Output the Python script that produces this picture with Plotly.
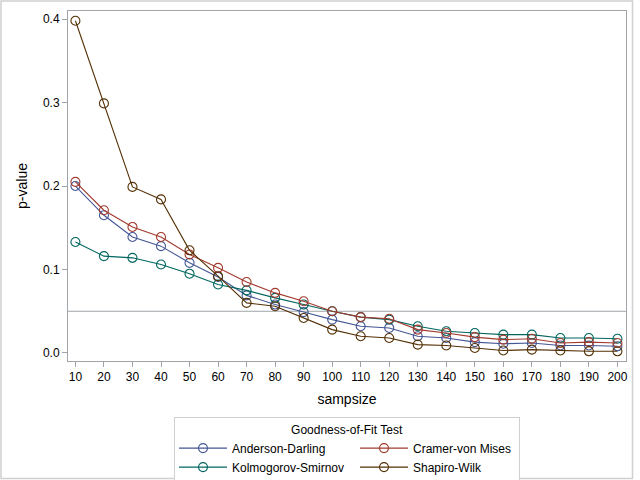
import plotly.graph_objects as go

sampsize = [10, 20, 30, 40, 50, 60, 70, 80, 90, 100,
            110, 120, 130, 140, 150, 160, 170, 180, 190, 200]

anderson_darling = [0.200, 0.165, 0.139, 0.128, 0.108, 0.091, 0.069, 0.058, 0.049, 0.040,
                    0.032, 0.030, 0.020, 0.018, 0.013, 0.011, 0.012, 0.009, 0.009, 0.008]
cramer_von_mises = [0.205, 0.171, 0.151, 0.139, 0.118, 0.102, 0.085, 0.072, 0.062, 0.050,
                    0.043, 0.041, 0.028, 0.024, 0.019, 0.016, 0.017, 0.012, 0.013, 0.012]
kolmogorov_smirnov = [0.133, 0.116, 0.114, 0.106, 0.095, 0.082, 0.075, 0.066, 0.058, 0.050,
                      0.043, 0.040, 0.032, 0.026, 0.024, 0.022, 0.022, 0.018, 0.018, 0.017]
shapiro_wilk = [0.398, 0.299, 0.199, 0.184, 0.123, 0.092, 0.060, 0.056, 0.042, 0.028,
                0.020, 0.018, 0.010, 0.009, 0.006, 0.003, 0.004, 0.003, 0.002, 0.002]

series = [
    ("Anderson-Darling", anderson_darling, "#445694", "g1", 118),
    ("Kolmogorov-Smirnov", kolmogorov_smirnov, "#01665E", "g1", 118),
    ("Cramer-von Mises", cramer_von_mises, "#A23A2E", "g2", 101),
    ("Shapiro-Wilk", shapiro_wilk, "#543005", "g2", 101),
]

reference_p = 0.05
y_ticks = [0.0, 0.1, 0.2, 0.3, 0.4]

FONT = "Liberation Sans, Arial, sans-serif"
FRAME = "#A0A4A8"

fig = go.Figure()
for name, vals, col, grp, lw in series:
    fig.add_trace(go.Scatter(
        x=sampsize, y=vals, name=name, mode="lines+markers",
        line=dict(color=col, width=1.1),
        marker=dict(symbol="circle-open", size=9, color=col, line=dict(width=1.1, color=col)),
        legendgroup=grp, legendwidth=lw,
    ))

fig.add_shape(type="line", xref="paper", yref="y", x0=0, x1=1,
              y0=reference_p, y1=reference_p,
              line=dict(color=FRAME, width=1), layer="below")

# outer border
fig.add_shape(type="rect", xref="paper", yref="paper",
              x0=(1 - 68) / 558, x1=(632.5 - 68) / 558,
              y0=(361 - 478.5) / 350, y1=(361 - 1) / 350,
              line=dict(color="#D0D0D0", width=1.5), layer="below")

fig.update_layout(
    width=640, height=480,
    margin=dict(l=68, r=14, t=11, b=119, autoexpand=False),
    paper_bgcolor="white", plot_bgcolor="white",
    font=dict(family=FONT, size=12, color="black"),
    showlegend=True,
    legend=dict(
        orientation="h", x=0.5, xanchor="center", y=-0.16, yanchor="top",
        title=dict(text="Goodness-of-Fit Test", side="top center", font=dict(size=12)),
        bordercolor="#D0D0D0", borderwidth=1,
        font=dict(size=12), tracegroupgap=0,
        itemwidth=48,
    ),
    xaxis=dict(
        range=[7.4, 203.0], tickvals=sampsize, ticks="outside", ticklen=5,
        tickcolor=FRAME, showgrid=False, zeroline=False,
        showline=True, linecolor=FRAME, linewidth=1, mirror=True,
        title=dict(text="sampsize", standoff=10), automargin=False,
    ),
    yaxis=dict(
        range=[-0.0096, 0.4097], tickvals=y_ticks, tickformat=".1f",
        ticks="outside", ticklen=5, tickcolor=FRAME, showgrid=False, zeroline=False,
        showline=True, linecolor=FRAME, linewidth=1, mirror=True,
        title=dict(text="p-value", standoff=12), automargin=False,
    ),
)

fig.write_html("out.html", config={"displayModeBar": False},
               post_script="document.body.style.margin='0';")
